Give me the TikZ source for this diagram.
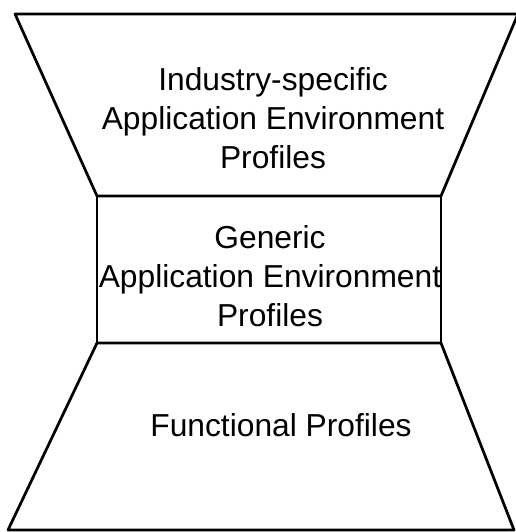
\documentclass[tikz,border=0pt]{standalone}
\usepackage{fontspec}
\setmainfont{Liberation Sans}
\usetikzlibrary{positioning}

\begin{document}
\begin{tikzpicture}[x=0.4pt,y=-0.4pt,line join=round,
    rim/.style={draw=black,line width=1.1pt},
    lbl/.style={align=center,inner sep=0pt,font=\fontsize{12.7}{15.6}\selectfont}]
      \useasboundingbox (0,0) rectangle (515,532);

      \coordinate (t1) at (15,14);
      \coordinate (t2) at (518,14);
      \coordinate (m1) at (97,196);
      \coordinate (m2) at (441,196);
      \coordinate (m3) at (441,343);
      \coordinate (m4) at (97,343);
      \coordinate (b1) at (8,530);
      \coordinate (b2) at (514,530);

      \draw[rim] (t1) -- (t2) -- (m2) -- (m1) -- cycle;
      \draw[rim] (m1) -- (m2) -- (m3) -- (m4) -- cycle;
      \draw[rim] (m4) -- (m3) -- (b2) -- (b1) -- cycle;

      \node[lbl] (industry) at (273,118) {Industry-specific\\Application Environment\\Profiles};
      \node[lbl] (generic) at (270,276) {Generic\\Application Environment\\Profiles};
      \node[lbl] (functional) at (281,425) {Functional Profiles};

  \end{tikzpicture}
\end{document}
